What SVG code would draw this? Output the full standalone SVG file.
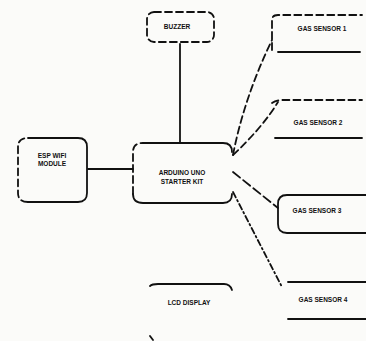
<svg xmlns="http://www.w3.org/2000/svg" width="366" height="341" viewBox="0 0 366 341">
<style>
.bx{fill:none;stroke:#111;stroke-width:1.8;stroke-linecap:round}
.ds{stroke-dasharray:7 4}
.dd{stroke-dasharray:6 3 1.5 3}
.ln{fill:none;stroke:#111;stroke-width:1.8;stroke-linecap:round}
text{font-family:"Liberation Sans",Arial,sans-serif;font-weight:bold;font-size:6.5px;fill:#111;text-anchor:middle}
</style>
<rect width="366" height="341" fill="#fbfbf9"/>
<g id="connectors">
<line class="ln" x1="180" y1="44" x2="180" y2="143"/>
<line class="ln" x1="88" y1="169" x2="133" y2="169"/>
<path class="ln ds" d="M233 155 Q244 98 272 40"/>
<path class="ln ds" d="M233 155 Q262 128 278 102"/>
<path class="ln" style="stroke-dasharray:9 4" d="M233 172 L278 208"/>
<path class="ln dd" d="M233 192 L282 287"/>
<path class="ln" d="M150 336 L153 340"/>
</g>
<g id="buzzer">
<rect class="bx ds" x="147" y="12" width="67" height="30" rx="7"/>
<text x="177" y="29">BUZZER</text>
</g>
<g id="module">
<path class="bx" d="M28 138 H78 Q87 138 87 147 V193 Q87 202 78 202 H28"/>
<path class="bx ds" d="M28 202 Q18 202 18 193 V147 Q18 138 28 138"/>
<text x="52" y="158">ESP WIFI</text>
<text x="52" y="166">MODULE</text>
</g>
<g id="controller">
<path class="bx" d="M143 143 H223 Q232 143 232 152 M232 194 Q232 203 223 203 H143 Q133 203 133 194"/>
<path class="bx ds" d="M133 194 V152 Q133 143 143 143"/>
<text x="182" y="175">ARDUINO UNO</text>
<text x="182" y="184">STARTER KIT</text>
</g>
<g id="sensor1">
<path class="bx ds" d="M272 50 V20 Q272 15 278 15 H362"/>
<line class="bx" x1="278" y1="52" x2="360" y2="52"/>
<text x="322" y="31">GAS SENSOR 1</text>
</g>
<g id="sensor2">
<path class="bx ds" d="M272 103 Q276 100 282 100 H362"/>
<line class="bx" x1="275" y1="138" x2="362" y2="138"/>
<text x="318" y="125">GAS SENSOR 2</text>
</g>
<g id="sensor3">
<path class="bx" d="M366 195 H287 Q278 195 278 204 V224 Q278 233 287 233 H366"/>
<text x="317" y="213">GAS SENSOR 3</text>
</g>
<g id="sensor4">
<line class="bx" x1="288" y1="282" x2="366" y2="282"/>
<line class="bx" x1="288" y1="319" x2="366" y2="319"/>
<text x="323" y="302">GAS SENSOR 4</text>
</g>
<g id="display">
<path class="bx" d="M150 286 Q152 284 158 284 H224 Q230 284 232 290"/>
<text x="189" y="305">LCD DISPLAY</text>
</g>
</svg>
